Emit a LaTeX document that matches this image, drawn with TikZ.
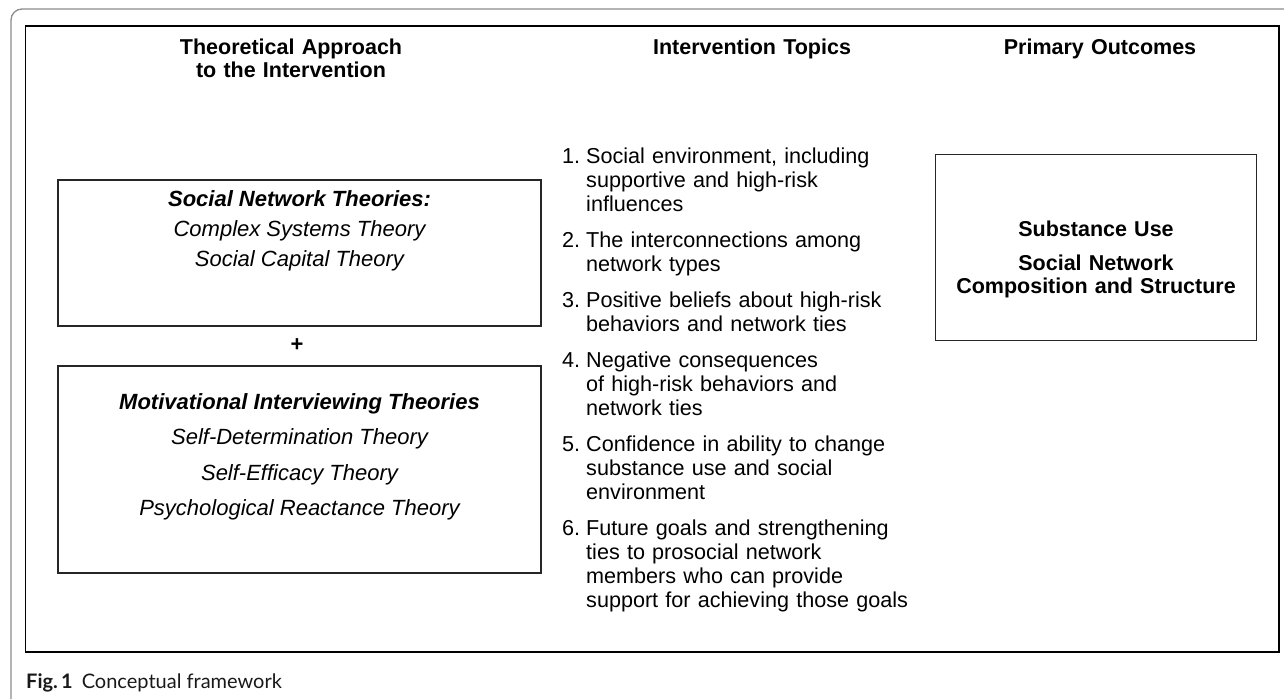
\documentclass[tikz,border=0pt]{standalone}
\usepackage{fontspec}
\setmainfont{Liberation Sans}
\newfontfamily\capfont{Lato}
\newcommand\itemnum[1]{\makebox[24pt][l]{#1.}}
\newcommand\itemind{\hspace*{24pt}}
\begin{document}
\begin{tikzpicture}[x=1pt,y=-1pt,
  outerframe/.style={draw=black!45, line width=1.3pt},
  innerframe/.style={draw=black, line width=1.6pt, inner sep=0},
  tbox/.style={draw=black!85, line width=1.4pt, inner sep=0},
  hdr/.style={font=\fontsize{21.5}{23}\selectfont\bfseries, text width=360pt, align=center, anchor=base, inner sep=0},
  thyhead/.style={font=\fontsize{22}{24}\selectfont\bfseries\itshape, anchor=base, inner sep=0},
  thy/.style={font=\fontsize{22}{24}\selectfont\itshape, anchor=base, inner sep=0},
  topic/.style={font=\fontsize{21.6}{24}\selectfont, text width=400pt, align=left, anchor=base west, inner sep=0},
  outc/.style={font=\fontsize{21.5}{23}\selectfont\bfseries, text width=320pt, align=center, anchor=base, inner sep=0},
  caption/.style={font=\capfont\fontsize{20}{24}\selectfont, text=black!90, anchor=base west, inner sep=0}]
\useasboundingbox (0,0) rectangle (1284,699);

% outer page frame (gray, rounded top-left corner)
\coordinate (oTR) at (1284,9);
\coordinate (oTL) at (11,9);
\coordinate (oBL) at (11,699);
\draw[outerframe, rounded corners=11pt] (oTR) -- (oTL) -- (oBL);

% inner figure frame
\node[innerframe, minimum width=1253.5pt, minimum height=626pt] (frame) at (652.25,339) {};

% headers
\node[hdr] (h1) at (291,54) {Theoretical Approach\\to the Intervention};
\node[hdr] (h2) at (752,54) {Intervention Topics};
\node[hdr] (h3) at (1100,54) {Primary Outcomes};

% left boxes
\node[tbox, minimum width=483pt, minimum height=146pt] (snbox) at (299.5,253) {};
\node[thyhead] (sn0) at (299.5,206) {Social Network Theories:};
\node[thy] (sn1) at (299.5,236) {Complex Systems Theory};
\node[thy] (sn2) at (299.5,266) {Social Capital Theory};

\node[font=\fontsize{22}{24}\selectfont\bfseries, inner sep=0] (plus) at (297,345) {+};

\node[tbox, minimum width=483pt, minimum height=207pt] (mibox) at (299.5,469.5) {};
\node[thyhead] (mi0) at (299.5,409) {Motivational Interviewing Theories};
\node[thy] (mi1) at (299.5,444) {Self-Determination Theory};
\node[thy] (mi2) at (299.5,480) {Self-Efficacy Theory};
\node[thy] (mi3) at (299.5,515) {Psychological Reactance Theory};

% topics
\node[topic] (t1) at (562,163) {\itemnum{1}Social environment, including\\\itemind supportive and high-risk\\\itemind influences};
\node[topic] (t2) at (562,247) {\itemnum{2}The interconnections among\\\itemind network types};
\node[topic] (t3) at (562,307) {\itemnum{3}Positive beliefs about high-risk\\\itemind behaviors and network ties};
\node[topic] (t4) at (562,367) {\itemnum{4}Negative consequences\\\itemind of high-risk behaviors and\\\itemind network ties};
\node[topic] (t5) at (562,451) {\itemnum{5}Confidence in ability to change\\\itemind substance use and social\\\itemind environment};
\node[topic] (t6) at (562,535) {\itemnum{6}Future goals and strengthening\\\itemind ties to prosocial network\\\itemind members who can provide\\\itemind support for achieving those goals};

% outcomes
\node[tbox, minimum width=321pt, minimum height=186pt] (obox) at (1096,247.5) {};
\node[outc] (o1) at (1096,236) {Substance Use};
\node[outc] (o2) at (1096,270) {Social Network\\Composition and Structure};

% caption
\node[caption] (cap) at (26,688) {\textbf{Fig.\,1}\hspace{9pt}Conceptual framework};
\end{tikzpicture}
\end{document}
